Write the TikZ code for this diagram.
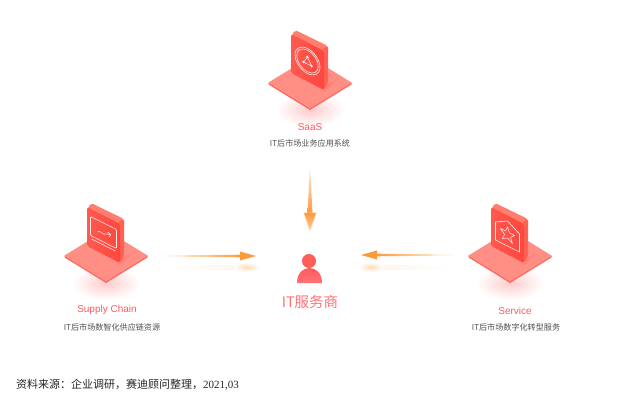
\documentclass[tikz,border=0pt]{standalone}
\usepackage{fontspec}
\setmainfont{Liberation Sans}
\newfontfamily\cjkf{Noto Sans CJK SC}
\newfontfamily\timesf{Liberation Serif}
\usetikzlibrary{calc}
\definecolor{redlab}{HTML}{FF5A5F}
\definecolor{sublab}{HTML}{505050}
\definecolor{arrowc}{HTML}{FF9A3C}
\definecolor{plat}{HTML}{FF8F85}
\definecolor{platd}{HTML}{FF6A62}
\definecolor{cardf}{HTML}{FF463E}
\definecolor{cardl}{HTML}{FF7E6E}
\definecolor{cards}{HTML}{FF6254}
\tikzset{
  titlelab/.style={text=redlab,font=\fontsize{10}{12}\selectfont,inner sep=0pt},
  sublabel/.style={text=sublab,font=\cjkf\fontsize{8.1}{10}\selectfont,inner sep=0pt},
  iconline/.style={draw=white!85!cardl,line width=.6pt,line join=round,fill=none},
  platform/.pic={
    \shade[inner color=red!20!white,outer color=white] (0,27) ellipse (34 and 17);
    \fill[platd] (-41.5,-.5)--(0,25)--(41.5,-.5)--(41.5,1.5)--(0,27)--(-41.5,1.5)--cycle;
    \fill[plat] (-41.5,-.5)--(0,-26)--(41.5,-.5)--(0,25)--cycle;
    \fill[platd!35!plat] (10,6)--(18,1)--(26,-3)--(14,9)--cycle;
    \fill[cardl,rounded corners=2pt] (-19,-46)--(-15,-53)--(18,-37)--(18,-30)--(14,-28)--cycle;
    \fill[cards,rounded corners=2pt] (12,-34)--(18,-37)--(18,0)--(14,7)--(10,5)--cycle;
    \shade[left color=cardf!65!cardl,right color=cardf,rounded corners=2.5pt] (-19,-49)--(14,-32)--(14,7)--(-19,-10)--cycle;
  }
}
\begin{document}
\begin{tikzpicture}[x=1pt,y=-1pt]
\useasboundingbox (0,0) rectangle (630,402);
\fill[white] (0,0) rectangle (630,402);

% SaaS module
\pic at (310,83) {platform};
\begin{scope}[shift={(307.5,61)},cm={1,-.5,0,1,(0,0)}]
  \draw[iconline] (0,0) circle (12.5);
  \draw[iconline] (0,0) circle (10.8);
  \draw[iconline] (0,-4)--(-4,3)--(4,3)--cycle;
  \fill[white] (0,-4) circle (1.3) (-4,3) circle (1.3) (4,3) circle (1.3);
\end{scope}
\node[titlelab] (saasT) at (310,127) {SaaS};
\node[sublabel] (saasS) at (310,143) {IT后市场业务应用系统};

% Supply Chain module
\pic at (106,256) {platform};
\begin{scope}[shift={(103.5,234)},cm={1,-.5,0,1,(0,0)}]
  \draw[iconline,rounded corners=1pt] (-13,-11) rectangle (13,8);
  \draw[iconline] (-12,11)--(12,11);
  \draw[iconline] (-6,1)..controls (-3,-3) and (-1,2) ..(2,-1)--(7,-3);
  \draw[iconline] (4,-4)--(7,-3)--(6,0);
\end{scope}
\node[titlelab] (scT) at (107,310) {Supply Chain};
\node[sublabel] (scS) at (112,327) {IT后市场数智化供应链资源};

% Service module
\pic at (510,256) {platform};
\begin{scope}[shift={(507.5,234)},cm={1,-.5,0,1,(0,0)}]
  \draw[iconline] (-12,-6)--(0,-13)--(12,-6)--(12,12)--(-12,12)--cycle;
  \draw[iconline] (0,-7)--(2,-2)--(7,-2)--(3,2)--(5,7)--(0,4)--(-5,7)--(-3,2)--(-7,-2)--(-2,-2)--cycle;
\end{scope}
\node[titlelab] (svT) at (515,311) {Service};
\node[sublabel] (svS) at (516,327) {IT后市场数字化转型服务};

% Centre: IT service provider
\fill[redlab!92!orange] (309,261) circle (7);
\shade[top color=redlab,bottom color=redlab!85!white] (297,283) .. controls (297,273) and (303,268) .. (309.5,268) .. controls (316,268) and (322,273) .. (322,283) -- cycle;
\node[inner sep=0pt,text=redlab!85!white,font=\cjkf\fontsize{14.5}{16}\selectfont] (prov) at (310,302) {IT服务商};

% Arrow anchors
\coordinate (aL) at (160,256); \coordinate (bL) at (256,256);
\coordinate (aR) at (457,255); \coordinate (bR) at (361,255);
\coordinate (aT) at (310,165); \coordinate (bT) at (310,232);

% Left arrow
\shade[left color=white,right color=arrowc!10!white] (170,265)--(238,265)--(238,269)--(170,269)--cycle;
\shade[inner color=arrowc!35!white,outer color=white] (247,267) ellipse (13 and 5);
\shade[left color=white,right color=arrowc] ($(aL)+(0,-.5)$)--($(bL)+(-15,-1.3)$)--($(bL)+(-15,1.3)$)--($(aL)+(0,.5)$)--cycle;
\fill[arrowc] (bL)--($(bL)+(-16,-4.5)$)--($(bL)+(-16,4.5)$)--cycle;

% Right arrow
\shade[right color=white,left color=arrowc!10!white] (380,265)--(450,265)--(450,269)--(380,269)--cycle;
\shade[inner color=arrowc!35!white,outer color=white] (371,267) ellipse (13 and 5);
\shade[right color=white,left color=arrowc] ($(aR)+(0,-.5)$)--($(bR)+(15,-1.3)$)--($(bR)+(15,1.3)$)--($(aR)+(0,.5)$)--cycle;
\fill[arrowc] (bR)--($(bR)+(16,-4.5)$)--($(bR)+(16,4.5)$)--cycle;

% Top arrow
\shade[top color=arrowc!15!white,bottom color=arrowc] (aT)--($(bT)+(-2.5,-19)$)--($(bT)+(2.5,-19)$)--cycle;
\shade[top color=arrowc!60!white,bottom color=white] ($(bT)+(-6.5,-19.5)$)--($(bT)+(6.5,-19.5)$)--($(bT)+(0,2)$)--cycle;
\shade[top color=arrowc,bottom color=arrowc!55!white] ($(bT)+(0,-2)$)--($(bT)+(-5.5,-19)$)--($(bT)+(5.5,-19)$)--cycle;

% Source line
\node[anchor=west,inner sep=0pt,text=black!85,font=\cjkf\fontsize{11}{13}\selectfont] (src) at (16,385) {资料来源：企业调研，赛迪顾问整理，{\timesf 2021,03}};
\end{tikzpicture}
\end{document}
